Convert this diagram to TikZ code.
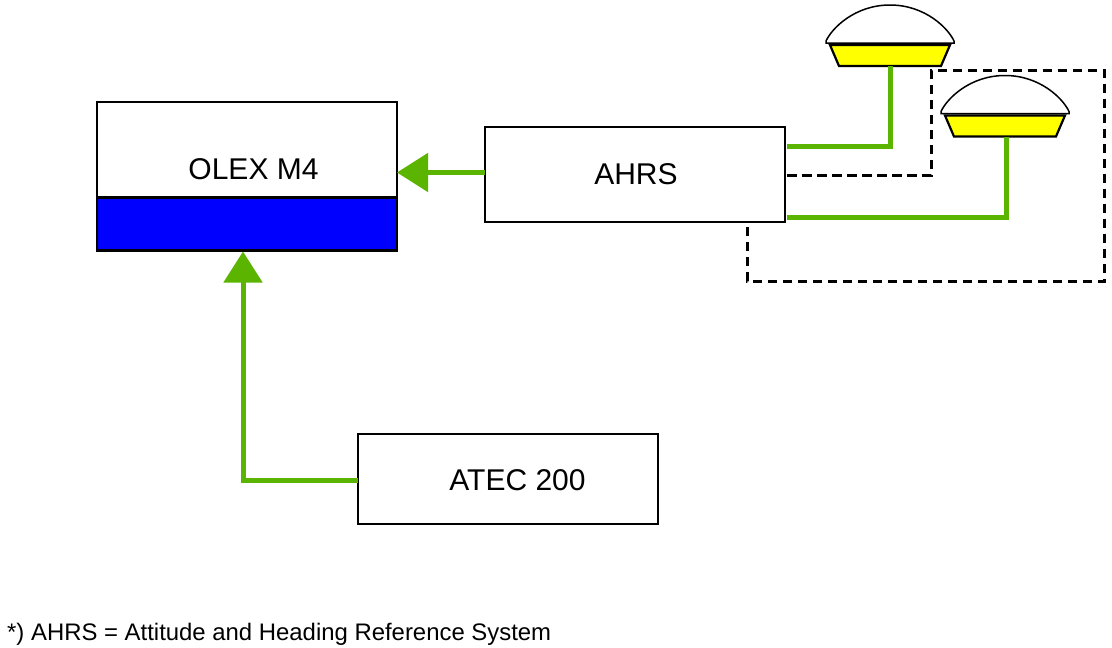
\documentclass[tikz,border=0pt]{standalone}
\usepackage{fontspec}
\setmainfont{Liberation Sans}
\usetikzlibrary{arrows.meta}
\definecolor{linkgreen}{HTML}{5AB400}
\definecolor{screenblue}{HTML}{0000FF}
\definecolor{domeyellow}{HTML}{FFFF00}
\tikzset{
  unitbox/.style={draw=black,line width=2.5pt,fill=white,minimum width=300pt,inner sep=0pt,outer sep=0pt,font=\fontsize{30}{34}\selectfont},
  boxlabel/.style={font=\fontsize{30}{34}\selectfont,inner sep=0pt},
  greenlink/.style={draw=linkgreen,line width=5pt,line join=miter},
  greenarrow/.style={greenlink,-{Triangle[length=31pt,width=38pt]}},
  dashlink/.style={draw=black,line width=3pt,dash pattern=on 9.5pt off 5.5pt},
  antenna/.pic={
    \draw[fill=white,line width=1.5pt] (-64,-23) -- (-64,-25) .. controls (-58,-38) and (-35,-61) .. (0,-61)
      .. controls (35,-61) and (58,-38) .. (64,-25) -- (64,-23) -- cycle;
    \draw[fill=domeyellow,line width=2.2pt] (-60,-21) -- (60,-21) -- (51,0) -- (-51,0) -- cycle;
  }
}
\begin{document}
\begin{tikzpicture}[x=1pt,y=-1pt]
\useasboundingbox[fill=white] (0,0) rectangle (1112,648);
% units
\node[unitbox,minimum height=95pt,label={[boxlabel,xshift=6.5pt,yshift=-20pt]center:OLEX M4}] (olex) at (247,149.5) {};
\node[unitbox,minimum height=53pt,fill=screenblue] (olexscreen) at (247,224) {};
\node[unitbox,minimum height=95pt,label={[boxlabel,xshift=1pt]center:AHRS}] (ahrs) at (635,174.5) {};
\node[unitbox,minimum height=90pt,label={[boxlabel,xshift=9.5pt,yshift=-1pt]center:ATEC 200}] (atec) at (508,479) {};
% antennas
\pic at (890,66) {antenna};
\pic at (1005,136.5) {antenna};
\coordinate (antA) at (890,66);
\coordinate (antB) at (1006,137);
% helper levels
\coordinate (lvA) at (890,146);
\coordinate (lvB) at (1006,217);
\coordinate (lvC) at (931,175);
\coordinate (dashTL) at (931,70.5);
\coordinate (dashTR) at (1104.5,70.5);
\coordinate (dashBR) at (1104.5,281);
\coordinate (dashBL) at (747,281);
\coordinate (inA) at (397,172.5);
\coordinate (inB) at (243,251.5);
\coordinate (atecTurn) at (243,480);
\coordinate (startA) at (787,146);
\coordinate (startB) at (787,217);
\coordinate (startC) at (787,175);
% connectors
\draw[greenlink] (startA) -- (lvA) -- (antA);
\draw[greenlink] (startB) -- (lvB) -- (antB);
\draw[dashlink] (startC) -- (lvC) -- (dashTL) -- (dashTR) -- (dashBR) -- (dashBL) -- (dashBL |- ahrs.south);
\draw[greenarrow] (ahrs.west |- inA) -- (inA);
\draw[greenarrow] (atec.west |- atecTurn) -- (atecTurn) -- (inB);
% footnote
\node[anchor=west,inner sep=0pt,font=\fontsize{23.9}{27}\selectfont] (note) at (7,634) {*) AHRS = Attitude and Heading Reference System};
\end{tikzpicture}
\end{document}
